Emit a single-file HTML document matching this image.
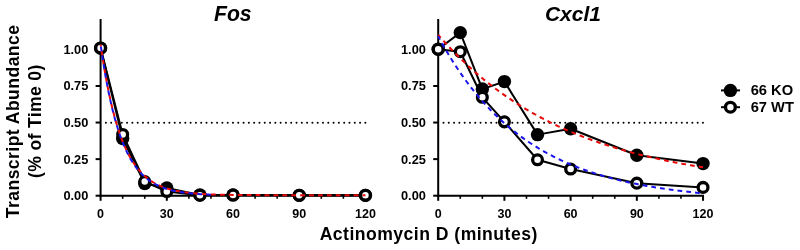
<!DOCTYPE html>
<html><head><meta charset="utf-8"><style>
html,body{margin:0;padding:0;background:#fff;width:800px;height:250px;overflow:hidden}
svg{display:block;will-change:transform}
text{font-family:"Liberation Sans",sans-serif;font-weight:bold}
</style></head><body>
<svg width="800" height="250" viewBox="0 0 800 250">
<rect width="800" height="250" fill="#fff"/>
<line x1="100.6" y1="19" x2="100.6" y2="196.7" stroke="#000" stroke-width="2"/>
<line x1="99.6" y1="195.7" x2="366.43999999999994" y2="195.7" stroke="#000" stroke-width="2"/>
<line x1="95.6" y1="195.7" x2="100.6" y2="195.7" stroke="#000" stroke-width="2"/>
<text x="88.3" y="200.2" text-anchor="end" font-size="12.8" font-family="Liberation Sans, sans-serif" font-weight="bold">0.00</text>
<line x1="95.6" y1="159.125" x2="100.6" y2="159.125" stroke="#000" stroke-width="2"/>
<text x="88.3" y="163.625" text-anchor="end" font-size="12.8" font-family="Liberation Sans, sans-serif" font-weight="bold">0.25</text>
<line x1="95.6" y1="122.55" x2="100.6" y2="122.55" stroke="#000" stroke-width="2"/>
<text x="88.3" y="127.05" text-anchor="end" font-size="12.8" font-family="Liberation Sans, sans-serif" font-weight="bold">0.50</text>
<line x1="95.6" y1="85.975" x2="100.6" y2="85.975" stroke="#000" stroke-width="2"/>
<text x="88.3" y="90.475" text-anchor="end" font-size="12.8" font-family="Liberation Sans, sans-serif" font-weight="bold">0.75</text>
<line x1="95.6" y1="49.39999999999999" x2="100.6" y2="49.39999999999999" stroke="#000" stroke-width="2"/>
<text x="88.3" y="53.89999999999999" text-anchor="end" font-size="12.8" font-family="Liberation Sans, sans-serif" font-weight="bold">1.00</text>
<line x1="100.6" y1="195.5" x2="100.6" y2="200.8" stroke="#000" stroke-width="2"/>
<text x="100.6" y="218.2" text-anchor="middle" font-size="12.5" font-family="Liberation Sans, sans-serif" font-weight="bold">0</text>
<line x1="122.66999999999999" y1="195.5" x2="122.66999999999999" y2="198.8" stroke="#000" stroke-width="1.6"/>
<line x1="144.74" y1="195.5" x2="144.74" y2="198.8" stroke="#000" stroke-width="1.6"/>
<line x1="166.81" y1="195.5" x2="166.81" y2="200.8" stroke="#000" stroke-width="2"/>
<text x="166.81" y="218.2" text-anchor="middle" font-size="12.5" font-family="Liberation Sans, sans-serif" font-weight="bold">30</text>
<line x1="188.88" y1="195.5" x2="188.88" y2="198.8" stroke="#000" stroke-width="1.6"/>
<line x1="210.95" y1="195.5" x2="210.95" y2="198.8" stroke="#000" stroke-width="1.6"/>
<line x1="233.01999999999998" y1="195.5" x2="233.01999999999998" y2="200.8" stroke="#000" stroke-width="2"/>
<text x="233.01999999999998" y="218.2" text-anchor="middle" font-size="12.5" font-family="Liberation Sans, sans-serif" font-weight="bold">60</text>
<line x1="255.08999999999997" y1="195.5" x2="255.08999999999997" y2="198.8" stroke="#000" stroke-width="1.6"/>
<line x1="277.15999999999997" y1="195.5" x2="277.15999999999997" y2="198.8" stroke="#000" stroke-width="1.6"/>
<line x1="299.23" y1="195.5" x2="299.23" y2="200.8" stroke="#000" stroke-width="2"/>
<text x="299.23" y="218.2" text-anchor="middle" font-size="12.5" font-family="Liberation Sans, sans-serif" font-weight="bold">90</text>
<line x1="321.29999999999995" y1="195.5" x2="321.29999999999995" y2="198.8" stroke="#000" stroke-width="1.6"/>
<line x1="343.37" y1="195.5" x2="343.37" y2="198.8" stroke="#000" stroke-width="1.6"/>
<line x1="365.43999999999994" y1="195.5" x2="365.43999999999994" y2="200.8" stroke="#000" stroke-width="2"/>
<text x="365.43999999999994" y="218.2" text-anchor="middle" font-size="12.5" font-family="Liberation Sans, sans-serif" font-weight="bold">120</text>
<line x1="105.89999999999999" y1="122.8" x2="366.93999999999994" y2="122.8" stroke="#000" stroke-width="2" stroke-linecap="round" stroke-dasharray="0 5.295"/>
<text x="232.8" y="20.8" text-anchor="middle" font-size="21.2" font-style="italic" font-family="Liberation Sans, sans-serif" font-weight="bold">Fos</text>
<polyline points="100.60,48.10 122.67,138.46 144.74,183.45 166.81,188.00 199.91,195.06 233.02,194.91 299.23,195.35 365.44,195.35" fill="none" stroke="#000" stroke-width="2" stroke-linejoin="round"/>
<polyline points="100.60,48.10 122.67,134.50 144.74,181.53 166.81,191.53 199.91,195.21 233.02,195.06 299.23,195.35 365.44,195.35" fill="none" stroke="#000" stroke-width="2" stroke-linejoin="round"/>
<circle cx="100.60" cy="48.10" r="6.7" fill="#000"/>
<circle cx="122.67" cy="138.46" r="6.7" fill="#000"/>
<circle cx="144.74" cy="183.45" r="6.7" fill="#000"/>
<circle cx="166.81" cy="188.00" r="6.7" fill="#000"/>
<circle cx="199.91" cy="195.06" r="6.7" fill="#000"/>
<circle cx="233.02" cy="194.91" r="6.7" fill="#000"/>
<circle cx="299.23" cy="195.35" r="6.7" fill="#000"/>
<circle cx="365.44" cy="195.35" r="6.7" fill="#000"/>
<circle cx="100.60" cy="48.10" r="4.9" fill="#fff" stroke="#000" stroke-width="3.3"/>
<circle cx="122.67" cy="134.50" r="4.9" fill="#fff" stroke="#000" stroke-width="3.3"/>
<circle cx="144.74" cy="181.53" r="4.9" fill="#fff" stroke="#000" stroke-width="3.3"/>
<circle cx="166.81" cy="191.53" r="4.9" fill="#fff" stroke="#000" stroke-width="3.3"/>
<circle cx="199.91" cy="195.21" r="4.9" fill="#fff" stroke="#000" stroke-width="3.3"/>
<circle cx="233.02" cy="195.06" r="4.9" fill="#fff" stroke="#000" stroke-width="3.3"/>
<circle cx="299.23" cy="195.35" r="4.9" fill="#fff" stroke="#000" stroke-width="3.3"/>
<circle cx="365.44" cy="195.35" r="4.9" fill="#fff" stroke="#000" stroke-width="3.3"/>
<polyline points="100.60,44.52 101.70,52.08 102.81,59.27 103.91,66.09 105.01,72.57 106.12,78.73 107.22,84.57 108.32,90.13 109.43,95.40 110.53,100.41 111.63,105.17 112.74,109.69 113.84,113.98 114.95,118.06 116.05,121.93 117.15,125.61 118.26,129.10 119.36,132.42 120.46,135.57 121.57,138.57 122.67,141.41 123.77,144.11 124.88,146.68 125.98,149.11 127.08,151.43 128.19,153.62 129.29,155.71 130.39,157.69 131.50,159.58 132.60,161.36 133.70,163.06 134.81,164.68 135.91,166.21 137.02,167.67 138.12,169.05 139.22,170.36 140.33,171.61 141.43,172.79 142.53,173.92 143.64,174.99 144.74,176.00 145.84,176.97 146.95,177.88 148.05,178.75 149.15,179.58 150.26,180.36 151.36,181.11 152.46,181.81 153.57,182.49 154.67,183.13 155.77,183.73 156.88,184.31 157.98,184.86 159.09,185.37 160.19,185.87 161.29,186.34 162.40,186.78 163.50,187.21 164.60,187.61 165.71,187.99 166.81,188.35 167.91,188.69 169.02,189.02 170.12,189.33 171.22,189.63 172.33,189.91 173.43,190.17 174.53,190.43 175.64,190.67 176.74,190.89 177.84,191.11 178.95,191.32 180.05,191.51 181.16,191.70 182.26,191.87 183.36,192.04 184.47,192.20 185.57,192.35 186.67,192.49 187.78,192.63 188.88,192.76 189.98,192.88 191.09,193.00 192.19,193.11 193.29,193.22 194.40,193.32 195.50,193.41 196.60,193.50 197.71,193.59 198.81,193.67 199.91,193.74 201.02,193.82 202.12,193.89 203.23,193.95 204.33,194.02 205.43,194.08 206.54,194.13 207.64,194.19 208.74,194.24 209.85,194.29 210.95,194.33 212.05,194.38 213.16,194.42 214.26,194.46 215.36,194.50 216.47,194.53 217.57,194.57 218.67,194.60 219.78,194.63 220.88,194.66 221.98,194.69 223.09,194.71 224.19,194.74 225.30,194.76 226.40,194.78 227.50,194.80 228.61,194.82 229.71,194.84 230.81,194.86 231.92,194.88 233.02,194.90 234.12,194.91 235.23,194.93 236.33,194.94 237.43,194.95 238.54,194.97 239.64,194.98 240.74,194.99 241.85,195.00 242.95,195.01 244.05,195.02 245.16,195.03 246.26,195.04 247.37,195.05 248.47,195.06 249.57,195.06 250.68,195.07 251.78,195.08 252.88,195.08 253.99,195.09 255.09,195.10 256.19,195.10 257.30,195.11 258.40,195.11 259.50,195.12 260.61,195.12 261.71,195.13 262.81,195.13 263.92,195.13 265.02,195.14 266.12,195.14 267.23,195.14 268.33,195.15 269.44,195.15 270.54,195.15 271.64,195.16 272.75,195.16 273.85,195.16 274.95,195.16 276.06,195.17 277.16,195.17 278.26,195.17 279.37,195.17 280.47,195.17 281.57,195.18 282.68,195.18 283.78,195.18 284.88,195.18 285.99,195.18 287.09,195.18 288.19,195.18 289.30,195.18 290.40,195.19 291.51,195.19 292.61,195.19 293.71,195.19 294.82,195.19 295.92,195.19 297.02,195.19 298.13,195.19 299.23,195.19 300.33,195.19 301.44,195.19 302.54,195.20 303.64,195.20 304.75,195.20 305.85,195.20 306.95,195.20 308.06,195.20 309.16,195.20 310.26,195.20 311.37,195.20 312.47,195.20 313.58,195.20 314.68,195.20 315.78,195.20 316.89,195.20 317.99,195.20 319.09,195.20 320.20,195.20 321.30,195.20 322.40,195.20 323.51,195.20 324.61,195.20 325.71,195.20 326.82,195.20 327.92,195.20 329.02,195.20 330.13,195.20 331.23,195.20 332.33,195.20 333.44,195.20 334.54,195.20 335.65,195.20 336.75,195.20 337.85,195.21 338.96,195.21 340.06,195.21 341.16,195.21 342.27,195.21 343.37,195.21 344.47,195.21 345.58,195.21 346.68,195.21 347.78,195.21 348.89,195.21 349.99,195.21 351.09,195.21 352.20,195.21 353.30,195.21 354.40,195.21 355.51,195.21 356.61,195.21 357.72,195.21 358.82,195.21 359.92,195.21 361.03,195.21 362.13,195.21 363.23,195.21 364.34,195.21 365.44,195.21" fill="none" stroke="#e60a0a" stroke-width="2" stroke-dasharray="4.8 4.11" stroke-dashoffset="2.6"/>
<polyline points="100.60,44.52 101.70,52.20 102.81,59.50 103.91,66.42 105.01,72.99 106.12,79.23 107.22,85.15 108.32,90.77 109.43,96.10 110.53,101.16 111.63,105.96 112.74,110.52 113.84,114.85 114.95,118.95 116.05,122.85 117.15,126.55 118.26,130.06 119.36,133.39 120.46,136.55 121.57,139.55 122.67,142.40 123.77,145.10 124.88,147.67 125.98,150.10 127.08,152.42 128.19,154.61 129.29,156.69 130.39,158.67 131.50,160.54 132.60,162.32 133.70,164.01 134.81,165.61 135.91,167.13 137.02,168.58 138.12,169.95 139.22,171.25 140.33,172.48 141.43,173.66 142.53,174.77 143.64,175.82 144.74,176.83 145.84,177.78 146.95,178.68 148.05,179.53 149.15,180.35 150.26,181.12 151.36,181.85 152.46,182.55 153.57,183.21 154.67,183.83 155.77,184.43 156.88,184.99 157.98,185.52 159.09,186.03 160.19,186.51 161.29,186.97 162.40,187.41 163.50,187.82 164.60,188.21 165.71,188.58 166.81,188.93 167.91,189.27 169.02,189.58 170.12,189.89 171.22,190.17 172.33,190.44 173.43,190.70 174.53,190.94 175.64,191.18 176.74,191.40 177.84,191.61 178.95,191.80 180.05,191.99 181.16,192.17 182.26,192.34 183.36,192.50 184.47,192.65 185.57,192.80 186.67,192.94 187.78,193.07 188.88,193.19 189.98,193.31 191.09,193.42 192.19,193.53 193.29,193.63 194.40,193.72 195.50,193.81 196.60,193.90 197.71,193.98 198.81,194.06 199.91,194.13 201.02,194.20 202.12,194.27 203.23,194.33 204.33,194.39 205.43,194.45 206.54,194.50 207.64,194.55 208.74,194.60 209.85,194.64 210.95,194.69" fill="none" stroke="#1a14ec" stroke-width="2" stroke-dasharray="4.8 4.11" stroke-dashoffset="-2.13"/>
<line x1="438.2" y1="19" x2="438.2" y2="196.7" stroke="#000" stroke-width="2"/>
<line x1="437.2" y1="195.7" x2="704.04" y2="195.7" stroke="#000" stroke-width="2"/>
<line x1="433.2" y1="195.7" x2="438.2" y2="195.7" stroke="#000" stroke-width="2"/>
<text x="425.9" y="200.2" text-anchor="end" font-size="12.8" font-family="Liberation Sans, sans-serif" font-weight="bold">0.00</text>
<line x1="433.2" y1="159.125" x2="438.2" y2="159.125" stroke="#000" stroke-width="2"/>
<text x="425.9" y="163.625" text-anchor="end" font-size="12.8" font-family="Liberation Sans, sans-serif" font-weight="bold">0.25</text>
<line x1="433.2" y1="122.55" x2="438.2" y2="122.55" stroke="#000" stroke-width="2"/>
<text x="425.9" y="127.05" text-anchor="end" font-size="12.8" font-family="Liberation Sans, sans-serif" font-weight="bold">0.50</text>
<line x1="433.2" y1="85.975" x2="438.2" y2="85.975" stroke="#000" stroke-width="2"/>
<text x="425.9" y="90.475" text-anchor="end" font-size="12.8" font-family="Liberation Sans, sans-serif" font-weight="bold">0.75</text>
<line x1="433.2" y1="49.39999999999999" x2="438.2" y2="49.39999999999999" stroke="#000" stroke-width="2"/>
<text x="425.9" y="53.89999999999999" text-anchor="end" font-size="12.8" font-family="Liberation Sans, sans-serif" font-weight="bold">1.00</text>
<line x1="438.2" y1="195.5" x2="438.2" y2="200.8" stroke="#000" stroke-width="2"/>
<text x="438.2" y="218.2" text-anchor="middle" font-size="12.5" font-family="Liberation Sans, sans-serif" font-weight="bold">0</text>
<line x1="460.27" y1="195.5" x2="460.27" y2="198.8" stroke="#000" stroke-width="1.6"/>
<line x1="482.34" y1="195.5" x2="482.34" y2="198.8" stroke="#000" stroke-width="1.6"/>
<line x1="504.40999999999997" y1="195.5" x2="504.40999999999997" y2="200.8" stroke="#000" stroke-width="2"/>
<text x="504.40999999999997" y="218.2" text-anchor="middle" font-size="12.5" font-family="Liberation Sans, sans-serif" font-weight="bold">30</text>
<line x1="526.48" y1="195.5" x2="526.48" y2="198.8" stroke="#000" stroke-width="1.6"/>
<line x1="548.55" y1="195.5" x2="548.55" y2="198.8" stroke="#000" stroke-width="1.6"/>
<line x1="570.62" y1="195.5" x2="570.62" y2="200.8" stroke="#000" stroke-width="2"/>
<text x="570.62" y="218.2" text-anchor="middle" font-size="12.5" font-family="Liberation Sans, sans-serif" font-weight="bold">60</text>
<line x1="592.6899999999999" y1="195.5" x2="592.6899999999999" y2="198.8" stroke="#000" stroke-width="1.6"/>
<line x1="614.76" y1="195.5" x2="614.76" y2="198.8" stroke="#000" stroke-width="1.6"/>
<line x1="636.8299999999999" y1="195.5" x2="636.8299999999999" y2="200.8" stroke="#000" stroke-width="2"/>
<text x="636.8299999999999" y="218.2" text-anchor="middle" font-size="12.5" font-family="Liberation Sans, sans-serif" font-weight="bold">90</text>
<line x1="658.9" y1="195.5" x2="658.9" y2="198.8" stroke="#000" stroke-width="1.6"/>
<line x1="680.97" y1="195.5" x2="680.97" y2="198.8" stroke="#000" stroke-width="1.6"/>
<line x1="703.04" y1="195.5" x2="703.04" y2="200.8" stroke="#000" stroke-width="2"/>
<text x="703.04" y="218.2" text-anchor="middle" font-size="12.5" font-family="Liberation Sans, sans-serif" font-weight="bold">120</text>
<line x1="443.5" y1="122.8" x2="704.54" y2="122.8" stroke="#000" stroke-width="2" stroke-linecap="round" stroke-dasharray="0 5.295"/>
<text x="572.9" y="20.8" text-anchor="middle" font-size="21" font-style="italic" font-family="Liberation Sans, sans-serif" font-weight="bold">Cxcl1</text>
<polyline points="438.20,49.20 460.27,32.62 482.34,89.07 504.41,81.58 537.51,134.64 570.62,128.76 636.83,155.22 703.04,163.60" fill="none" stroke="#000" stroke-width="2" stroke-linejoin="round"/>
<polyline points="438.20,49.20 460.27,51.73 482.34,97.30 504.41,121.85 537.51,159.78 570.62,169.04 636.83,183.15 703.04,187.41" fill="none" stroke="#000" stroke-width="2" stroke-linejoin="round"/>
<circle cx="438.20" cy="49.20" r="6.7" fill="#000"/>
<circle cx="460.27" cy="32.62" r="6.7" fill="#000"/>
<circle cx="482.34" cy="89.07" r="6.7" fill="#000"/>
<circle cx="504.41" cy="81.58" r="6.7" fill="#000"/>
<circle cx="537.51" cy="134.64" r="6.7" fill="#000"/>
<circle cx="570.62" cy="128.76" r="6.7" fill="#000"/>
<circle cx="636.83" cy="155.22" r="6.7" fill="#000"/>
<circle cx="703.04" cy="163.60" r="6.7" fill="#000"/>
<circle cx="438.20" cy="49.20" r="4.9" fill="#fff" stroke="#000" stroke-width="3.3"/>
<circle cx="460.27" cy="51.73" r="4.9" fill="#fff" stroke="#000" stroke-width="3.3"/>
<circle cx="482.34" cy="97.30" r="4.9" fill="#fff" stroke="#000" stroke-width="3.3"/>
<circle cx="504.41" cy="121.85" r="4.9" fill="#fff" stroke="#000" stroke-width="3.3"/>
<circle cx="537.51" cy="159.78" r="4.9" fill="#fff" stroke="#000" stroke-width="3.3"/>
<circle cx="570.62" cy="169.04" r="4.9" fill="#fff" stroke="#000" stroke-width="3.3"/>
<circle cx="636.83" cy="183.15" r="4.9" fill="#fff" stroke="#000" stroke-width="3.3"/>
<circle cx="703.04" cy="187.41" r="4.9" fill="#fff" stroke="#000" stroke-width="3.3"/>
<polyline points="438.20,34.79 439.30,36.06 440.41,37.33 441.51,38.58 442.61,39.82 443.72,41.05 444.82,42.28 445.92,43.49 447.03,44.69 448.13,45.88 449.24,47.06 450.34,48.24 451.44,49.40 452.55,50.55 453.65,51.69 454.75,52.83 455.86,53.95 456.96,55.07 458.06,56.17 459.17,57.27 460.27,58.35 461.37,59.43 462.48,60.50 463.58,61.56 464.68,62.61 465.79,63.65 466.89,64.69 467.99,65.71 469.10,66.73 470.20,67.74 471.31,68.74 472.41,69.73 473.51,70.71 474.62,71.69 475.72,72.65 476.82,73.61 477.93,74.56 479.03,75.51 480.13,76.44 481.24,77.37 482.34,78.29 483.44,79.20 484.55,80.11 485.65,81.00 486.75,81.89 487.86,82.77 488.96,83.65 490.06,84.52 491.17,85.38 492.27,86.23 493.38,87.08 494.48,87.91 495.58,88.75 496.69,89.57 497.79,90.39 498.89,91.20 500.00,92.00 501.10,92.80 502.20,93.59 503.31,94.38 504.41,95.16 505.51,95.93 506.62,96.69 507.72,97.45 508.82,98.20 509.93,98.95 511.03,99.69 512.13,100.42 513.24,101.15 514.34,101.87 515.44,102.59 516.55,103.30 517.65,104.00 518.76,104.70 519.86,105.39 520.96,106.08 522.07,106.76 523.17,107.43 524.27,108.10 525.38,108.77 526.48,109.43 527.58,110.08 528.69,110.73 529.79,111.37 530.89,112.00 532.00,112.64 533.10,113.26 534.20,113.88 535.31,114.50 536.41,115.11 537.51,115.71 538.62,116.31 539.72,116.91 540.83,117.50 541.93,118.09 543.03,118.67 544.14,119.24 545.24,119.81 546.34,120.38 547.45,120.94 548.55,121.50 549.65,122.05 550.76,122.60 551.86,123.14 552.96,123.68 554.07,124.21 555.17,124.74 556.27,125.27 557.38,125.79 558.48,126.31 559.59,126.82 560.69,127.33 561.79,127.83 562.90,128.33 564.00,128.82 565.10,129.32 566.21,129.80 567.31,130.29 568.41,130.77 569.52,131.24 570.62,131.71 571.72,132.18 572.83,132.64 573.93,133.10 575.03,133.56 576.14,134.01 577.24,134.46 578.34,134.90 579.45,135.34 580.55,135.78 581.65,136.21 582.76,136.64 583.86,137.07 584.97,137.49 586.07,137.91 587.17,138.33 588.28,138.74 589.38,139.15 590.48,139.55 591.59,139.95 592.69,140.35 593.79,140.75 594.90,141.14 596.00,141.53 597.10,141.91 598.21,142.30 599.31,142.68 600.41,143.05 601.52,143.42 602.62,143.79 603.72,144.16 604.83,144.52 605.93,144.89 607.04,145.24 608.14,145.60 609.24,145.95 610.35,146.30 611.45,146.64 612.55,146.99 613.66,147.33 614.76,147.66 615.86,148.00 616.97,148.33 618.07,148.66 619.17,148.98 620.28,149.31 621.38,149.63 622.48,149.95 623.59,150.26 624.69,150.58 625.79,150.89 626.90,151.19 628.00,151.50 629.11,151.80 630.21,152.10 631.31,152.40 632.42,152.69 633.52,152.99 634.62,153.28 635.73,153.56 636.83,153.85 637.93,154.13 639.04,154.41 640.14,154.69 641.24,154.97 642.35,155.24 643.45,155.51 644.55,155.78 645.66,156.05 646.76,156.31 647.87,156.57 648.97,156.83 650.07,157.09 651.18,157.35 652.28,157.60 653.38,157.85 654.49,158.10 655.59,158.35 656.69,158.60 657.80,158.84 658.90,159.08 660.00,159.32 661.11,159.56 662.21,159.79 663.31,160.03 664.42,160.26 665.52,160.49 666.62,160.72 667.73,160.94 668.83,161.17 669.93,161.39 671.04,161.61 672.14,161.83 673.25,162.04 674.35,162.26 675.45,162.47 676.56,162.68 677.66,162.89 678.76,163.10 679.87,163.30 680.97,163.51 682.07,163.71 683.18,163.91 684.28,164.11 685.38,164.31 686.49,164.50 687.59,164.70 688.69,164.89 689.80,165.08 690.90,165.27 692.00,165.46 693.11,165.65 694.21,165.83 695.32,166.01 696.42,166.20 697.52,166.38 698.63,166.55 699.73,166.73 700.83,166.91 701.94,167.08 703.04,167.25" fill="none" stroke="#e60a0a" stroke-width="2" stroke-dasharray="4.75 4.06" stroke-dashoffset="0.855"/>
<polyline points="438.20,36.34 439.30,38.38 440.41,40.40 441.51,42.39 442.61,44.36 443.72,46.30 444.82,48.22 445.92,50.11 447.03,51.98 448.13,53.83 449.24,55.66 450.34,57.46 451.44,59.24 452.55,61.00 453.65,62.73 454.75,64.45 455.86,66.14 456.96,67.82 458.06,69.47 459.17,71.10 460.27,72.72 461.37,74.31 462.48,75.88 463.58,77.43 464.68,78.97 465.79,80.48 466.89,81.98 467.99,83.46 469.10,84.92 470.20,86.36 471.31,87.78 472.41,89.19 473.51,90.58 474.62,91.95 475.72,93.30 476.82,94.64 477.93,95.96 479.03,97.27 480.13,98.56 481.24,99.83 482.34,101.09 483.44,102.33 484.55,103.56 485.65,104.77 486.75,105.97 487.86,107.15 488.96,108.32 490.06,109.47 491.17,110.61 492.27,111.73 493.38,112.84 494.48,113.94 495.58,115.02 496.69,116.09 497.79,117.15 498.89,118.19 500.00,119.22 501.10,120.24 502.20,121.25 503.31,122.24 504.41,123.22 505.51,124.19 506.62,125.15 507.72,126.09 508.82,127.03 509.93,127.95 511.03,128.86 512.13,129.76 513.24,130.65 514.34,131.52 515.44,132.39 516.55,133.25 517.65,134.09 518.76,134.93 519.86,135.75 520.96,136.57 522.07,137.37 523.17,138.16 524.27,138.95 525.38,139.72 526.48,140.49 527.58,141.24 528.69,141.99 529.79,142.73 530.89,143.46 532.00,144.17 533.10,144.89 534.20,145.59 535.31,146.28 536.41,146.96 537.51,147.64 538.62,148.31 539.72,148.97 540.83,149.62 541.93,150.26 543.03,150.90 544.14,151.52 545.24,152.14 546.34,152.75 547.45,153.36 548.55,153.96 549.65,154.55 550.76,155.13 551.86,155.70 552.96,156.27 554.07,156.83 555.17,157.39 556.27,157.93 557.38,158.47 558.48,159.01 559.59,159.53 560.69,160.05 561.79,160.57 562.90,161.08 564.00,161.58 565.10,162.07 566.21,162.56 567.31,163.05 568.41,163.52 569.52,164.00 570.62,164.46 571.72,164.92 572.83,165.38 573.93,165.82 575.03,166.27 576.14,166.70 577.24,167.14 578.34,167.56 579.45,167.98 580.55,168.40 581.65,168.81 582.76,169.22 583.86,169.62 584.97,170.02 586.07,170.41 587.17,170.79 588.28,171.18 589.38,171.55 590.48,171.92 591.59,172.29 592.69,172.66 593.79,173.01 594.90,173.37 596.00,173.72 597.10,174.06 598.21,174.41 599.31,174.74 600.41,175.08 601.52,175.40 602.62,175.73 603.72,176.05 604.83,176.37 605.93,176.68 607.04,176.99 608.14,177.29 609.24,177.60 610.35,177.89 611.45,178.19 612.55,178.48 613.66,178.76 614.76,179.05 615.86,179.33 616.97,179.60 618.07,179.88 619.17,180.15 620.28,180.41 621.38,180.68 622.48,180.94 623.59,181.19 624.69,181.45 625.79,181.70 626.90,181.94 628.00,182.19 629.11,182.43 630.21,182.67 631.31,182.90 632.42,183.13 633.52,183.36 634.62,183.59 635.73,183.81 636.83,184.03 637.93,184.25 639.04,184.47 640.14,184.68 641.24,184.89 642.35,185.10 643.45,185.30 644.55,185.51 645.66,185.71 646.76,185.90 647.87,186.10 648.97,186.29 650.07,186.48 651.18,186.67 652.28,186.86 653.38,187.04 654.49,187.22 655.59,187.40 656.69,187.58 657.80,187.75 658.90,187.92 660.00,188.09 661.11,188.26 662.21,188.43 663.31,188.59 664.42,188.75 665.52,188.91 666.62,189.07 667.73,189.23 668.83,189.38 669.93,189.53 671.04,189.69 672.14,189.83 673.25,189.98 674.35,190.13 675.45,190.27 676.56,190.41 677.66,190.55 678.76,190.69 679.87,190.82 680.97,190.96 682.07,191.09 683.18,191.22 684.28,191.35 685.38,191.48 686.49,191.61 687.59,191.73 688.69,191.85 689.80,191.98 690.90,192.10 692.00,192.21 693.11,192.33 694.21,192.45 695.32,192.56 696.42,192.68 697.52,192.79 698.63,192.90 699.73,193.01 700.83,193.11 701.94,193.22 703.04,193.32" fill="none" stroke="#1a14ec" stroke-width="2" stroke-dasharray="4.75 4.06" stroke-dashoffset="1.03"/>
<text transform="translate(18.5,121.4) rotate(-90)" text-anchor="middle" font-size="17.6" letter-spacing="0.43" font-family="Liberation Sans, sans-serif" font-weight="bold">Transcript Abundance</text>
<text transform="translate(41.0,121.2) rotate(-90)" text-anchor="middle" font-size="17.6" letter-spacing="0.34" font-family="Liberation Sans, sans-serif" font-weight="bold">(% of Time 0)</text>
<text x="428.7" y="240" text-anchor="middle" font-size="17.6" letter-spacing="0.47" font-family="Liberation Sans, sans-serif" font-weight="bold">Actinomycin D (minutes)</text>
<line x1="721" y1="90.4" x2="740" y2="90.4" stroke="#000" stroke-width="2"/>
<circle cx="730.4" cy="90.4" r="6.7" fill="#000"/>
<text x="750.7" y="95.1" font-size="14.7" font-family="Liberation Sans, sans-serif" font-weight="bold">66 KO</text>
<line x1="721" y1="107.2" x2="740" y2="107.2" stroke="#000" stroke-width="2"/>
<circle cx="730.4" cy="107.2" r="4.9" fill="#fff" stroke="#000" stroke-width="3.3"/>
<text x="750.7" y="112.4" font-size="14.7" font-family="Liberation Sans, sans-serif" font-weight="bold">67 WT</text>
</svg>
</body></html>
